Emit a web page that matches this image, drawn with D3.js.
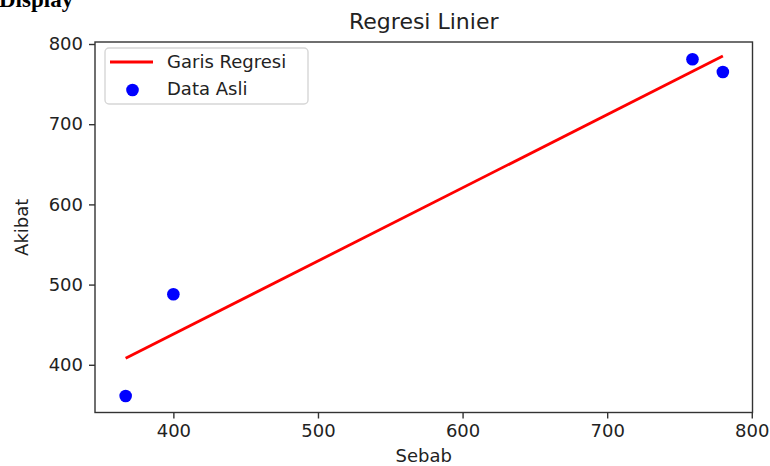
<!DOCTYPE html>
<html>
<head>
<meta charset="utf-8">
<script src="https://cdn.jsdelivr.net/npm/d3@7"></script>
<style>
  html, body { margin: 0; padding: 0; background: #fff; }
  svg { display: block; }
</style>
</head>
<body>
<div id="chart"></div>
<script>
// Data
const sebab  = [367, 400, 759, 780];   // x of the original points
const akibat = [361, 488, 781, 765];   // y of the original points
const garisX = [367, 780];             // regression line ends (x)
const garisY = [408, 785];             // regression line ends (y)
const xTicks = [400, 500, 600, 700, 800];
const yTicks = [400, 500, 600, 700, 800];
const xLimits = [345.8, 800.5];
const yLimits = [340.5, 802.5];

const W = 770, H = 466;
const FONT = "'DejaVu Sans', sans-serif";
const INK = '#222';
const frame = { left: 95, right: 752.5, top: 42, bottom: 412.5 };

const svg = d3.select('#chart').append('svg')
  .attr('width', W).attr('height', H);

// heading of the page the chart was cropped from (cut at the top there too)
svg.append('text')
  .attr('x', -1).attr('y', 7)
  .style('font-family', "'Liberation Serif', serif")
  .style('font-weight', 'bold')
  .style('font-size', '23px')
  .style('fill', '#000')
  .text('Display');

const x = d3.scaleLinear().domain(xLimits).range([frame.left, frame.right]);
const y = d3.scaleLinear().domain(yLimits).range([frame.bottom, frame.top]);

// Axes
const xAxis = svg.append('g')
  .attr('transform', `translate(0,${frame.bottom})`)
  .call(d3.axisBottom(x).tickValues(xTicks).tickSize(6).tickPadding(6).tickFormat(d3.format('d')));
const yAxis = svg.append('g')
  .attr('transform', `translate(${frame.left},0)`)
  .call(d3.axisLeft(y).tickValues(yTicks).tickSize(6).tickPadding(6).tickFormat(d3.format('d')));

[xAxis, yAxis].forEach(ax => {
  ax.select('.domain').remove();
  ax.selectAll('line').style('stroke', '#333').style('stroke-width', 1.4);
  ax.selectAll('text').style('font-family', FONT).style('font-size', '18px').style('fill', INK);
});

// Frame
svg.append('rect')
  .attr('x', frame.left).attr('y', frame.top)
  .attr('width', frame.right - frame.left)
  .attr('height', frame.bottom - frame.top)
  .attr('fill', 'none')
  .attr('stroke', '#333')
  .attr('stroke-width', 1.4);

// Regression line
svg.append('path')
  .datum(d3.zip(garisX, garisY))
  .attr('fill', 'none')
  .attr('stroke', '#ff0000')
  .attr('stroke-width', 2.8)
  .attr('d', d3.line().x(d => x(d[0])).y(d => y(d[1])));

// Points
svg.append('g').selectAll('circle')
  .data(d3.zip(sebab, akibat))
  .join('circle')
  .attr('cx', d => x(d[0]))
  .attr('cy', d => y(d[1]))
  .attr('r', 6.3)
  .attr('fill', '#0000ff');

// Title and labels
svg.append('text')
  .attr('x', (frame.left + frame.right) / 2).attr('y', 29)
  .attr('text-anchor', 'middle')
  .style('font-family', FONT).style('font-size', '22px').style('fill', INK)
  .text('Regresi Linier');

svg.append('text')
  .attr('x', (frame.left + frame.right) / 2).attr('y', 462)
  .attr('text-anchor', 'middle')
  .style('font-family', FONT).style('font-size', '18px').style('fill', INK)
  .text('Sebab');

svg.append('text')
  .attr('transform', `translate(28,${(frame.top + frame.bottom) / 2}) rotate(-90)`)
  .attr('text-anchor', 'middle')
  .style('font-family', FONT).style('font-size', '18px').style('fill', INK)
  .text('Akibat');

// Legend
const legend = svg.append('g').attr('transform', 'translate(105,48)');
legend.append('rect')
  .attr('width', 203).attr('height', 56)
  .attr('rx', 4)
  .attr('fill', 'rgba(255,255,255,0.8)')
  .attr('stroke', '#d6d6d6')
  .attr('stroke-width', 1.4);
legend.append('line')
  .attr('x1', 5).attr('x2', 48).attr('y1', 14).attr('y2', 14)
  .attr('stroke', '#ff0000').attr('stroke-width', 2.8);
legend.append('circle')
  .attr('cx', 27.5).attr('cy', 42).attr('r', 6.3)
  .attr('fill', '#0000ff');
legend.selectAll('text.lbl')
  .data(['Garis Regresi', 'Data Asli'])
  .join('text')
  .attr('class', 'lbl')
  .attr('x', 62)
  .attr('y', (d, i) => 20 + i * 27)
  .style('font-family', FONT).style('font-size', '18px').style('fill', INK)
  .text(d => d);
</script>
</body>
</html>
